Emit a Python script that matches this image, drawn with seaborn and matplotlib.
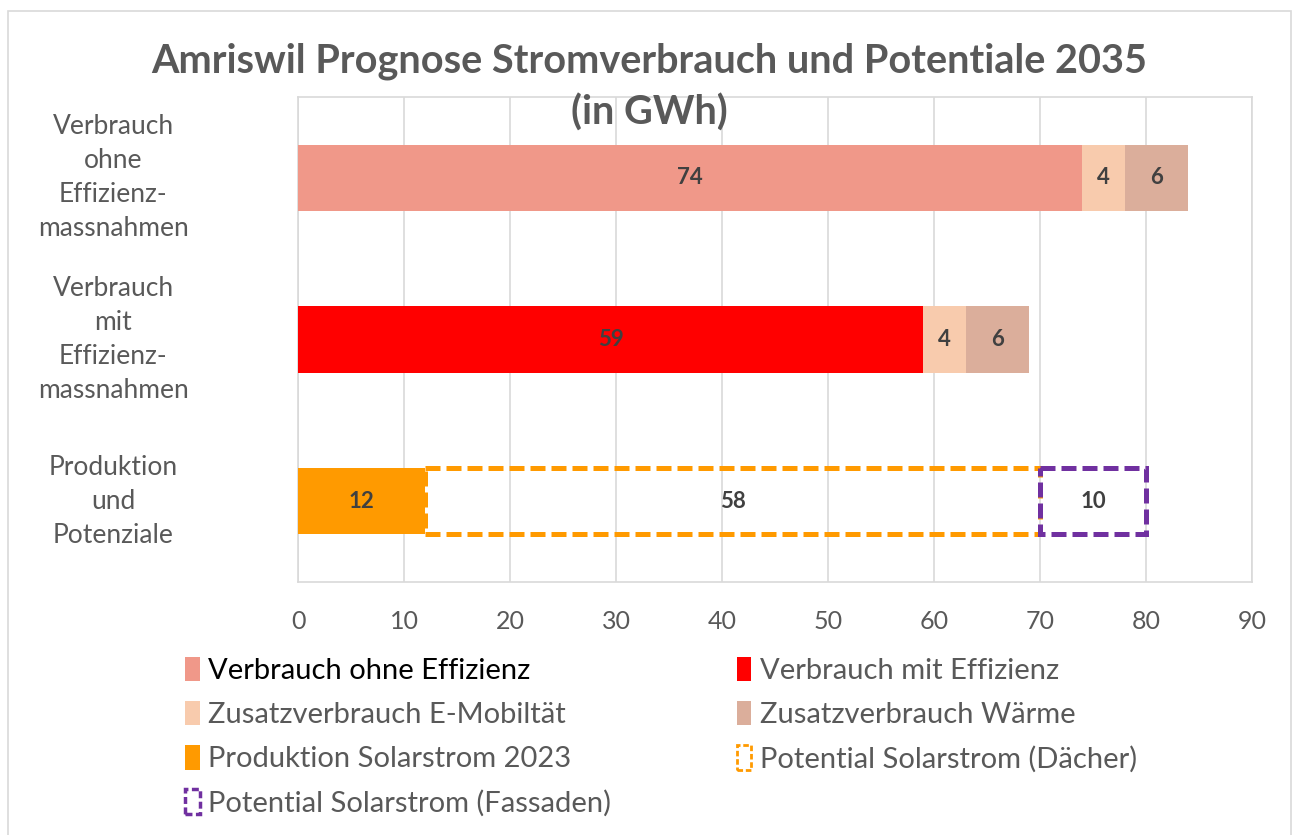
import pandas as pd
import numpy as np
import matplotlib.pyplot as plt
import seaborn as sns
from matplotlib.patches import Patch, Rectangle

# Daten
kategorien = ['Verbrauch\nohne\nEffizienz-\nmassnahmen',
              'Verbrauch\nmit\nEffizienz-\nmassnahmen',
              'Produktion\nund\nPotenziale']
basis = [74, 59, 12]
e_mobilitaet = [4, 4, 0]
waerme = [6, 6, 0]
daecher = [0, 0, 58]
fassaden = [0, 0, 10]

titel = 'Amriswil Prognose Stromverbrauch und Potentiale 2035\n(in GWh)'
legenden_texte = ['Verbrauch ohne Effizienz', 'Verbrauch mit Effizienz',
                  'Zusatzverbrauch E-Mobiltät', 'Zusatzverbrauch Wärme',
                  'Produktion Solarstrom 2023', 'Potential Solarstrom (Dächer)',
                  'Potential Solarstrom (Fassaden)']

# Farben
c_ohne = '#F09889'
c_mit = '#FF0000'
c_emob = '#F8CBAD'
c_waerme = '#DBAE9B'
c_prod = '#FF9A00'
c_purple = '#7030A0'
grau = '#595959'
linie = '#D9D9D9'

df = pd.DataFrame({'Kategorie': kategorien, 'Basis': basis, 'EMob': e_mobilitaet,
                   'Waerme': waerme, 'Daecher': daecher, 'Fassaden': fassaden})

sns.set_theme(style='white')
plt.rcParams['font.family'] = ['Lato', 'DejaVu Sans']

fig = plt.figure(figsize=(12.98, 8.35), dpi=100)
ax = fig.add_axes([0.2296, 0.303, 0.735, 0.581])

bh = 0.41

# Basisbalken (pro Kategorie eigene Farbe)
sns.barplot(data=df, x='Basis', y='Kategorie', hue='Kategorie', order=kategorien,
            palette=[c_ohne, c_mit, c_prod], saturation=1, orient='h', width=bh,
            errorbar=None, legend=False, linewidth=0, ax=ax, zorder=3)

# Zusatzverbrauch
verb = df[df['EMob'] > 0]
sns.barplot(data=verb, x='EMob', y='Kategorie', order=kategorien, color=c_emob,
            saturation=1, orient='h', width=bh, errorbar=None, linewidth=0,
            left=verb['Basis'].tolist(), ax=ax, zorder=3)
sns.barplot(data=verb, x='Waerme', y='Kategorie', order=kategorien, color=c_waerme,
            saturation=1, orient='h', width=bh, errorbar=None, linewidth=0,
            left=(verb['Basis'] + verb['EMob']).tolist(), ax=ax, zorder=3)

# Potenziale (nur Umriss, gestrichelt)
pot = df[df['Daecher'] > 0]
sns.barplot(data=pot, x='Daecher', y='Kategorie', order=kategorien, fill=False,
            color=c_prod, edgecolor=c_prod, saturation=1, orient='h', width=bh,
            errorbar=None, linewidth=3.6, linestyle=(0, (3, 1.2)),
            left=pot['Basis'].tolist(), ax=ax, zorder=2)
sns.barplot(data=pot, x='Fassaden', y='Kategorie', order=kategorien, fill=False,
            color=c_purple, edgecolor=c_purple, saturation=1, orient='h', width=bh,
            errorbar=None, linewidth=3.6, linestyle=(0, (3, 1.2)),
            left=(pot['Basis'] + pot['Daecher']).tolist(), ax=ax, zorder=2.5)

# Beschriftungen
for i in range(len(kategorien)):
    links = 0
    for werte in [basis, e_mobilitaet, waerme, daecher, fassaden]:
        w = werte[i]
        if w > 0:
            ax.text(links + w / 2, i, str(w), ha='center', va='center',
                    fontsize=16, fontweight='bold', color='#404040', zorder=5)
        links += w

ax.set_xlim(0, 90)
ax.set_ylim(2.5, -0.5)
ax.set_xticks(range(0, 91, 10))
ax.set_xlabel('')
ax.set_ylabel('')
ax.grid(axis='x', color=linie, linewidth=1.2, zorder=0)
ax.grid(axis='y', visible=False)
ax.set_axisbelow(True)
for s in ax.spines.values():
    s.set_color(linie)
    s.set_linewidth(1.2)
ax.tick_params(axis='x', length=0, labelsize=18, labelcolor=grau, pad=20)
ax.tick_params(axis='y', length=0, labelsize=19, labelcolor=grau, pad=133)
for lab in ax.get_yticklabels():
    lab.set_horizontalalignment('center')
    lab.set_verticalalignment('center')
    lab.set_multialignment('center')
    lab.set_linespacing(1.45)

fig.text(0.5, 0.896, titel, ha='center', va='center', fontsize=28.5,
         fontweight='bold', color=grau, linespacing=1.45)

# Legende
h_ohne = Patch(facecolor=c_ohne, edgecolor='none')
h_mit = Patch(facecolor=c_mit, edgecolor='none')
h_emob = Patch(facecolor=c_emob, edgecolor='none')
h_waerme = Patch(facecolor=c_waerme, edgecolor='none')
h_prod = Patch(facecolor=c_prod, edgecolor='none')
h_dach = Patch(facecolor='white', edgecolor=c_prod, linewidth=2, linestyle=(0, (2, 1)))
h_fass = Patch(facecolor='white', edgecolor=c_purple, linewidth=2.5, linestyle=(0, (2, 1)))
handles = [h_ohne, h_emob, h_prod, h_fass, h_mit, h_waerme, h_dach]
labels = [legenden_texte[i] for i in [0, 2, 4, 6, 1, 3, 5]]
leg = fig.legend(handles, labels, loc='upper left', bbox_to_anchor=(0.1426, 0.213),
                 ncol=2, frameon=False, fontsize=21, handlelength=0.5, handleheight=0.9,
                 handletextpad=0.3, columnspacing=4.3, labelspacing=0.58,
                 borderaxespad=0, borderpad=0)
for t in leg.get_texts():
    t.set_color(grau)
leg.get_texts()[0].set_color('black')

fig.patches.append(Rectangle((8 / 1298, -0.05), 1283 / 1298, 1 - 11 / 835 + 0.05,
                             transform=fig.transFigure, fill=False,
                             edgecolor=linie, linewidth=1.2))

fig.savefig('out.png', dpi=100)
